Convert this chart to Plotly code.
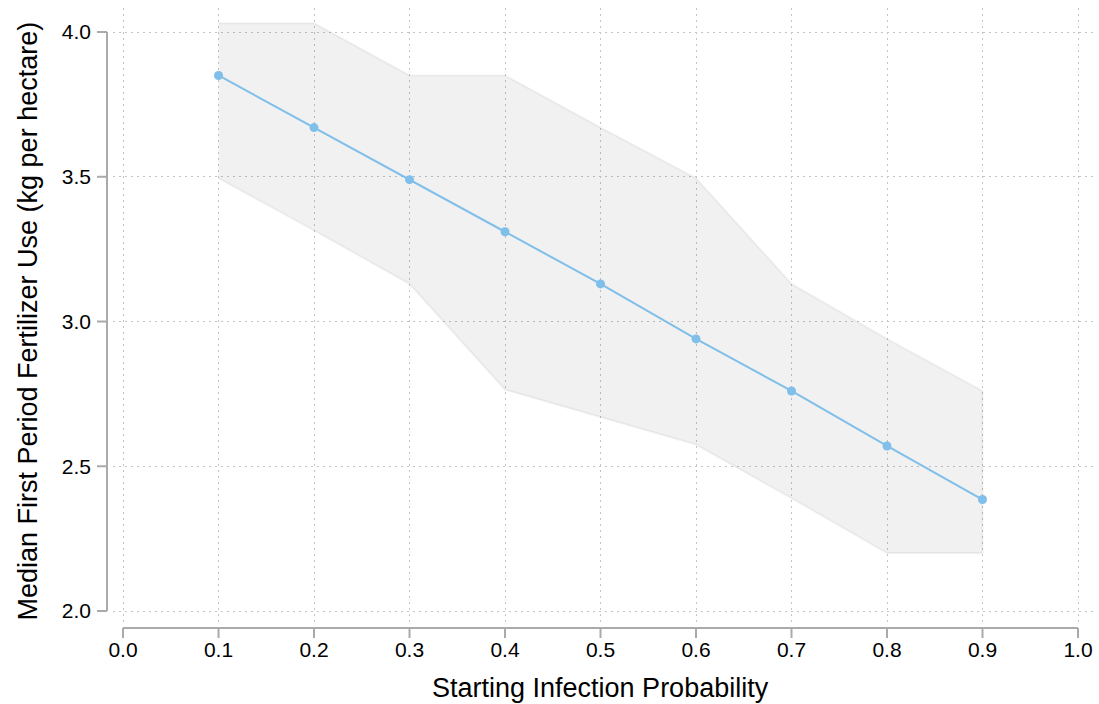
import plotly.graph_objects as go

# ---- data ----
infection_prob = [0.1, 0.2, 0.3, 0.4, 0.5, 0.6, 0.7, 0.8, 0.9]
median_fert = [3.85, 3.67, 3.49, 3.31, 3.13, 2.94, 2.76, 2.57, 2.385]
upper_fert = [4.03, 4.03, 3.85, 3.85, 3.67, 3.495, 3.13, 2.94, 2.76]
lower_fert = [3.495, 3.315, 3.13, 2.765, 2.67, 2.575, 2.39, 2.20, 2.20]
x_ticks = [0.0, 0.1, 0.2, 0.3, 0.4, 0.5, 0.6, 0.7, 0.8, 0.9, 1.0]
x_tick_labels = ["0.0", "0.1", "0.2", "0.3", "0.4", "0.5", "0.6", "0.7", "0.8", "0.9", "1.0"]
y_ticks = [2.0, 2.5, 3.0, 3.5, 4.0]
y_tick_labels = ["2.0", "2.5", "3.0", "3.5", "4.0"]

# ---- layout geometry ----
W, H = 1099, 704
L, R, T, B = 113, 2, 8, 82
PW, PH = W - L - R, H - T - B
XR = [-0.0105, 1.0199]
YR = [1.962, 4.083]

def xpaper(v):
    return (v - XR[0]) / (XR[1] - XR[0])

def ypaper(v):
    return (v - YR[0]) / (YR[1] - YR[0])

def xpx(px):  # absolute pixel -> paper
    return (px - L) / PW

def ypx(py):
    return (H - B - py) / PH

AXIS_COL = "#aaaaaa"
FONT = "Liberation Sans, Arial, sans-serif"

fig = go.Figure()

# band polygon
fig.add_trace(go.Scatter(
    x=infection_prob + infection_prob[::-1],
    y=upper_fert + lower_fert[::-1],
    fill="toself",
    fillcolor="rgba(0,0,0,0.055)",
    line=dict(color="rgba(0,0,0,0.05)", width=2),
    mode="lines",
    hoverinfo="skip",
    showlegend=False,
))

fig.add_trace(go.Scatter(
    x=infection_prob, y=median_fert,
    mode="lines+markers",
    line=dict(color="#7fbfea", width=2),
    marker=dict(color="#7fbfea", size=9),
    showlegend=False,
))

shapes = []
# y axis line (offset left of grid)
y_axis_x = xpx(107)
shapes.append(dict(type="line", xref="paper", yref="paper",
                   x0=y_axis_x, x1=y_axis_x, y0=ypaper(y_ticks[0]), y1=ypaper(y_ticks[-1]),
                   line=dict(color=AXIS_COL, width=2)))
for v in y_ticks:
    shapes.append(dict(type="line", xref="paper", yref="paper",
                       x0=xpx(97), x1=y_axis_x, y0=ypaper(v), y1=ypaper(v),
                       line=dict(color=AXIS_COL, width=2)))
# x axis line (offset below grid)
x_axis_y = ypx(628)
shapes.append(dict(type="line", xref="paper", yref="paper",
                   x0=xpaper(x_ticks[0]), x1=xpaper(x_ticks[-1]), y0=x_axis_y, y1=x_axis_y,
                   line=dict(color=AXIS_COL, width=2)))
for v in x_ticks:
    shapes.append(dict(type="line", xref="paper", yref="paper",
                       x0=xpaper(v), x1=xpaper(v), y0=x_axis_y, y1=ypx(638),
                       line=dict(color=AXIS_COL, width=2)))

annotations = [
    dict(text="Starting Infection Probability", xref="paper", yref="paper",
         x=(xpaper(0.0) + xpaper(1.0)) / 2, y=ypx(688), xanchor="center", yanchor="middle",
         showarrow=False, font=dict(size=27, color="#000000", family=FONT)),
    dict(text="Median First Period Fertilizer Use (kg per hectare)", xref="paper", yref="paper",
         x=xpx(28), y=(ypaper(2.0) + ypaper(4.0)) / 2, xanchor="center", yanchor="middle",
         textangle=-90, showarrow=False, font=dict(size=27, color="#000000", family=FONT)),
]

fig.update_layout(
    width=W, height=H,
    margin=dict(l=L, r=R, t=T, b=B),
    paper_bgcolor="white", plot_bgcolor="white",
    font=dict(family=FONT, size=21, color="#000000"),
    shapes=shapes,
    annotations=annotations,
    xaxis=dict(range=XR, tickvals=x_ticks, ticktext=x_tick_labels, showline=False,
               zeroline=False, showgrid=True, gridcolor="#c4c4c4", griddash="1.5px,4.5px",
               gridwidth=1, ticks="", ticklabelstandoff=13, tickfont=dict(size=21)),
    yaxis=dict(range=YR, tickvals=y_ticks, ticktext=y_tick_labels, showline=False,
               zeroline=False, showgrid=True, gridcolor="#c4c4c4", griddash="1.5px,4.5px",
               gridwidth=1, ticks="", ticklabelstandoff=21, tickfont=dict(size=21)),
)

fig.write_html("out.html")
